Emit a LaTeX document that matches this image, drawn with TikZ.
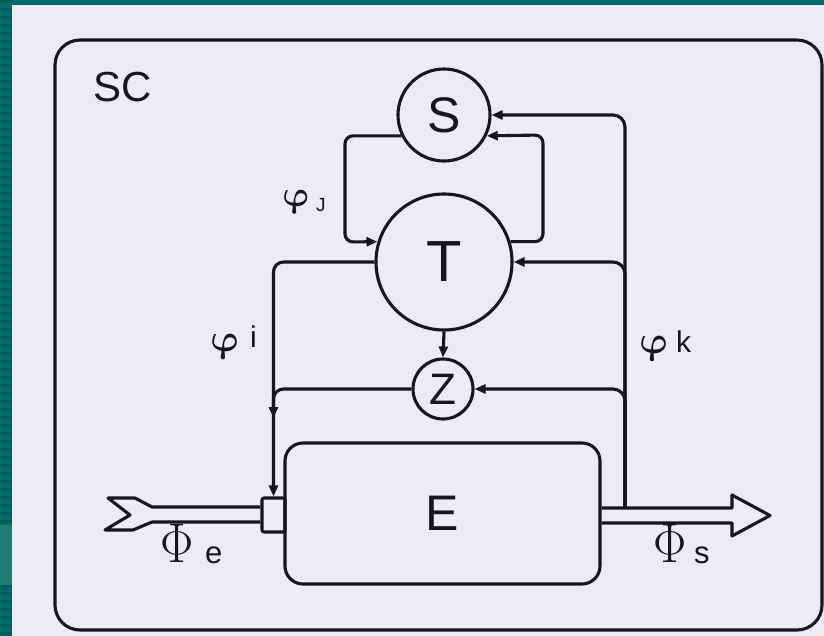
\documentclass[tikz,border=0pt]{standalone}
\usepackage{fontspec}
\setmainfont{Liberation Sans}
\usetikzlibrary{arrows.meta,calc}
\definecolor{ink}{RGB}{22,22,28}
\definecolor{paper}{RGB}{236,235,246}
\definecolor{tealbg}{RGB}{0,106,102}
\definecolor{tealdk}{RGB}{0,92,88}
\definecolor{teallt}{RGB}{34,124,118}
\newcommand{\fs}[1]{\fontsize{#1}{#1}\selectfont}
\newcommand{\bigvarphi}[1]{\scalebox{#1}{\Huge\boldmath$\varphi$}}
\newcommand{\bigPhi}{\scalebox{2.0}[2.25]{\Huge$\Phi$}}
\tikzset{
  ln/.style={line width=3.1pt, draw=ink, line join=round},
  conn/.style={ln, -{Triangle[length=11pt,width=9pt]}},
  circ/.style={circle, ln, inner sep=0pt, text=ink},
  lbl/.style={anchor=base west, inner sep=0pt, text=ink},
}
\begin{document}
\begin{tikzpicture}[x=1pt,y=-1pt]
% background
\fill[tealbg] (0,0) rectangle (824,636);
\foreach \yy in {0,8,...,632} {\fill[tealdk] (0,\yy) rectangle (12,\yy+3);}
\fill[teallt] (0,525) rectangle (12,585);
\fill[paper] (12,5) rectangle (824,636);
\useasboundingbox (0,0) rectangle (824,636);

% outer system frame
\node[ln, rounded corners=25, minimum width=767, minimum height=590, inner sep=0pt] (SCbox) at (438.5,335) {};
\node[lbl] (SC) at (93,102) {\fs{42}SC};

% nodes
\node[circ, minimum size=92] (S) at (444,115) {\fs{50}S};
\node[circ, minimum size=136] (T) at (444,262) {\fs{58}T};
\node[circ, minimum size=60] (Z) at (443,389) {\fs{44}Z};
\node[ln, rounded corners=18, minimum width=315, minimum height=141, inner sep=0pt, text=ink] (E) at (442.5,513.5) {\fs{50}E};
\node[ln, rounded corners=2, minimum width=23, minimum height=34, inner sep=0pt] (sq) at (273.5,515) {};

% S <-> T loops
\draw[conn, rounded corners=8] (S.206) -| (345,242) -- (T.163);
\draw[conn, rounded corners=8] (T.17) -| (543,135) -- (S.-26);

% T -> Z
\draw[conn] (T.south) -- (Z.north);

% T -> input regulator
\draw[conn, rounded corners=10] (T.west) -| (sq.north);
\coordinate (zj) at (273.5,418);
\draw[conn, rounded corners=10] (Z.west) -| (zj);

% feedback from output
\coordinate (fb) at (625,508);
\draw[conn, rounded corners=12] (fb) |- (S.east);
\draw[conn, rounded corners=12] (fb) |- (T.east);
\draw[conn, rounded corners=12] (fb) |- (Z.east);

% input flow arrow
\draw[ln] ($(sq.west)+(0,-8)$) -- (152,507) -- (135,498) -- (108,498) -- (130,515)
   -- (105,530) -- (133,530) -- (152,522) -- ($(sq.west)+(0,7)$);
% output flow arrow
\draw[ln] ($(E.east)+(0,-5.5)$) -- (732,508) -- (732,495) -- (770,515.5) -- (732,536)
   -- (732,523) -- ($(E.east)+(0,9.5)$);

% labels
\node[inner sep=0pt, text=ink] (Pe) at (177,543) {\bigPhi};
\node[lbl] (Pee) at (205,563) {\fs{31}e};
\node[inner sep=0pt, text=ink] (Ps) at (670,543) {\bigPhi};
\node[lbl] (Pss) at (694,563) {\fs{31}s};

\begin{scope}[shift={(284,207)}, xslant=-0.22]
  \node[lbl, transform shape] (pj) at (0,0) {\bigvarphi{1.45}};
\end{scope}
\node[lbl] (pjj) at (316,212) {\fs{19}J};
\begin{scope}[shift={(212,351)}, xslant=-0.22]
  \node[lbl, transform shape] (pi) at (0,0) {\bigvarphi{1.55}};
\end{scope}
\node[lbl] (pii) at (250,347) {\fs{30}i};
\begin{scope}[shift={(641,353)}, xslant=-0.22]
  \node[lbl, transform shape] (pk) at (0,0) {\bigvarphi{1.55}};
\end{scope}
\node[lbl] (pkk) at (676,352) {\fs{30}k};
\end{tikzpicture}
\end{document}
